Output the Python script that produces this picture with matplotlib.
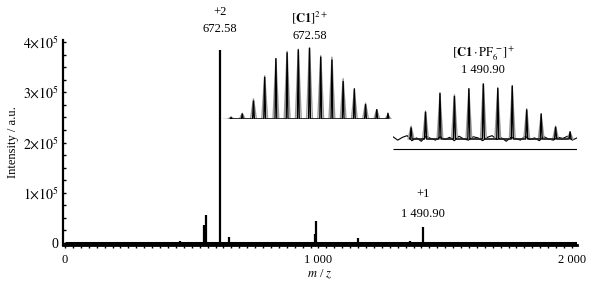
import numpy as np
import matplotlib
matplotlib.use('Agg')
from matplotlib import pyplot as plt
from matplotlib.ticker import MultipleLocator, FixedLocator

plt.rcParams['font.family'] = ['Liberation Serif', 'DejaVu Serif']
plt.rcParams['mathtext.fontset'] = 'stix'
plt.rcParams['font.size'] = 9

# full spectrum (stick peaks)
spec_mz = [284, 454, 548, 556, 611, 647, 986, 990, 1156, 1361, 1412, 1783]
spec_int = [0.02e5, 0.04e5, 0.35e5, 0.56e5, 3.84e5, 0.12e5, 0.18e5, 0.44e5, 0.10e5, 0.03e5, 0.32e5, 0.02e5]
xticks = [0, 1000, 2000]
xticklabels = ['0', '1 000', '2 000']
yticks = [0, 1e5, 2e5, 3e5, 4e5]
yticklabels = ['0', r'$1{\times}10^5$', r'$2{\times}10^5$', r'$3{\times}10^5$', r'$4{\times}10^5$']

# inset 1: [C1]2+ isotope pattern
iso2_mz = [669.08, 669.58, 670.08, 670.58, 671.08, 671.58, 672.08, 672.58,
           673.08, 673.58, 674.08, 674.58, 675.08, 675.58, 676.08]
iso2_sim = [3, 8, 28, 60, 83, 94, 97, 100, 88, 86, 56, 39, 22, 13, 6]
iso2_exp = [2, 7, 25, 58, 84, 92, 96, 98, 86, 82, 52, 42, 20, 13, 8]

# inset 2: [C1.PF6]+ isotope pattern
iso1_mz = [1485.9, 1486.9, 1487.9, 1488.9, 1489.9, 1490.9,
           1491.9, 1492.9, 1493.9, 1494.9, 1495.9, 1496.9]
iso1_sim = [23, 50, 80, 79, 88, 100, 89, 93, 54, 43, 23, 12]
iso1_exp = [20, 48, 82, 76, 90, 98, 91, 95, 52, 45, 21, 13]
iso1_noise = [4, -2, 3, 6, -3, 2, -4, 5, 1, -2, 4, -1, 3, -3, 5, 0, -2, 4, 2, -3,
              3, 6, -1, 2, -4, 3, 1, -2, 5, -1, 2, -3, 4, 0, -2, 3, 1, 5, -2, 2]


def profile(mz, h, hw):
    xs, ys = [], []
    for m, v in zip(mz, h):
        xs += [m - hw, m, m + hw]
        ys += [0, v, 0]
    return xs, ys


W, H = 604, 283
fig = plt.figure(figsize=(W / 100, H / 100), dpi=100)

ax = fig.add_axes([63 / W, 1 - 245 / H, 514 / W, 205 / H])
ax.set_xlim(-8, 2020)
ax.set_ylim(-0.04e5, 4.04e5)
ax.hlines(0, 0, 2020, color='k', lw=2.2)
ax.vlines(spec_mz, 0, spec_int, color='k', lw=1.6)
for s in ['top', 'right']:
    ax.spines[s].set_visible(False)
ax.spines['left'].set_linewidth(1.6)
ax.spines['bottom'].set_linewidth(2.0)
ax.xaxis.set_major_locator(FixedLocator(xticks))
ax.set_xticklabels(xticklabels)
ax.xaxis.set_minor_locator(MultipleLocator(31.25))
ax.yaxis.set_major_locator(FixedLocator(yticks))
ax.set_yticklabels(yticklabels, fontsize=10)
ax.yaxis.set_minor_locator(MultipleLocator(0.25e5))
ax.tick_params(which='both', direction='in', length=2, width=1, pad=3)
ax.tick_params(axis='x', which='both', direction='out', length=2.5, width=1, pad=4)
ax.set_xlabel('$m$ / $z$', labelpad=1)
ax.set_ylabel('Intensity / a.u.', labelpad=3)

i_main = spec_int.index(max(spec_int))
ax.annotate('672.58', xy=(spec_mz[i_main], spec_int[i_main]), xytext=(0, 11),
            textcoords='offset points', ha='center', va='bottom')
ax.annotate('+2', xy=(spec_mz[i_main], spec_int[i_main]), xytext=(0, 23),
            textcoords='offset points', ha='center', va='bottom')
ax.annotate('+1\n\n1 490.90', xy=(spec_mz[10], spec_int[10]), xytext=(0, 5),
            textcoords='offset points', ha='center', va='bottom', linespacing=0.8)

# inset 1
a1 = fig.add_axes([223 / W, 1 - 119 / H, 169 / W, 72 / H])
a1.set_xlim(668.72, 676.26)
a1.set_ylim(0, 100)
a1.axis('off')
a1.axhline(0, color='#333333', lw=0.9)
xs, ys = profile(iso2_mz, iso2_sim, 0.13)
a1.plot(xs, ys, color='#9a9a9a', lw=1.0)
xs, ys = profile(iso2_mz, iso2_exp, 0.04)
a1.plot(xs, ys, color='k', lw=1.0)
a1.text(672.58, 140, r'$[\mathbf{C1}]^{2+}$', ha='center', va='center', fontsize=9)
a1.text(672.58, 115, '672.58', ha='center', va='center', fontsize=9)

# inset 2
a2 = fig.add_axes([393 / W, 1 - 152 / H, 184 / W, 69 / H])
a2.set_xlim(1484.65, 1497.38)
a2.set_ylim(-23.2, 100)
a2.axis('off')
a2.plot(np.linspace(1484.65, 1497.38, len(iso1_noise)), iso1_noise, color='k', lw=0.8)
a2.hlines(-17.9, 1484.65, 1497.38, color='k', lw=0.8)
xs, ys = profile(iso1_mz, iso1_sim, 0.2)
a2.plot(xs, ys, color='#9a9a9a', lw=1.0)
xs, ys = profile(iso1_mz, iso1_exp, 0.07)
a2.plot(xs, ys, color='k', lw=1.0)
a2.text(1490.9, 153, r'$[\mathbf{C1}\cdot\mathrm{PF}_6^{\,-}]^{+}$', ha='center', va='center', fontsize=9)
a2.text(1490.9, 123, '1 490.90', ha='center', va='center', fontsize=9)

fig.savefig('out.png', dpi=100)
